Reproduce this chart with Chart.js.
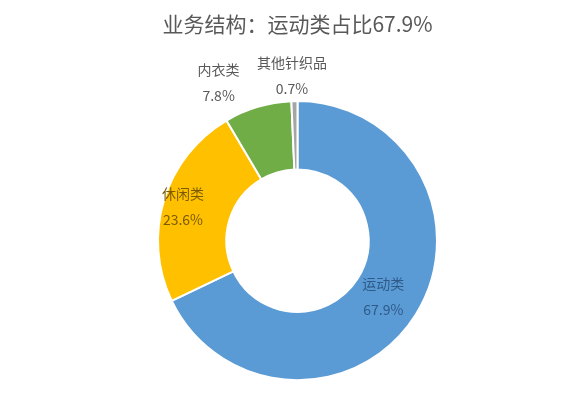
<!DOCTYPE html>
<html>
<head>
<meta charset="utf-8">
<title>业务结构</title>
<script src="https://cdn.jsdelivr.net/npm/chart.js"></script>
<style>
  html, body { margin: 0; padding: 0; background: #fff; }
  .box { width: 583px; height: 413px; }
</style>
</head>
<body>
<div class="box"><canvas id="pie"></canvas></div>
<script>
// 数据
const categories = ['运动类', '休闲类', '内衣类', '其他针织品'];
const shares = [67.9, 23.6, 7.8, 0.7];
const colors = ['#5B9BD5', '#FFC000', '#70AD47', '#A5A5A5'];
const labelColors = ['#2F5A88', '#7A5B00', '#595959', '#595959'];
// 标签微调 (dx, dy)
const nudges = [[-12, -6], [-4, 0], [-32, 0], [-2, 0]];

// 画数据标签：大的放在环内，小的放在环外
const labelPlugin = {
  id: 'sliceLabels',
  afterDatasetsDraw(chart) {
    const ctx = chart.ctx;
    const meta = chart.getDatasetMeta(0);
    ctx.save();
    ctx.font = '14px "Noto Sans CJK SC", sans-serif';
    ctx.textAlign = 'center';
    ctx.textBaseline = 'middle';
    meta.data.forEach(function (arc, i) {
      const p = arc.getProps(['x', 'y', 'startAngle', 'endAngle', 'innerRadius', 'outerRadius'], true);
      const mid = (p.startAngle + p.endAngle) / 2;
      const inside = shares[i] > 15;
      const r = inside ? p.innerRadius + 0.65 * (p.outerRadius - p.innerRadius) : p.outerRadius + 25;
      const cx = p.x + r * Math.cos(mid) + nudges[i][0];
      const cy = p.y + r * Math.sin(mid) + nudges[i][1];
      ctx.fillStyle = labelColors[i];
      ctx.fillText(categories[i], cx, cy - 13);
      ctx.fillText(shares[i].toFixed(1) + '%', cx, cy + 13);
    });
    ctx.restore();
  }
};

const ctx = document.getElementById('pie').getContext('2d');
new Chart(ctx, {
  type: 'doughnut',
  data: {
    labels: categories,
    datasets: [{
      data: shares,
      backgroundColor: colors,
      borderColor: '#ffffff',
      borderWidth: 2
    }]
  },
  options: {
    responsive: true,
    maintainAspectRatio: false,
    animation: false,
    cutout: '51%',
    layout: { padding: { left: 157, right: 145, top: 0, bottom: 31 } },
    plugins: {
      legend: { display: false },
      tooltip: { enabled: false },
      title: {
        display: true,
        text: '业务结构：运动类占比67.9%',
        color: '#595959',
        font: { family: '"Noto Sans CJK SC", sans-serif', size: 21, weight: 'normal' },
        padding: { top: 11, bottom: 63 }
      }
    }
  },
  plugins: [labelPlugin]
});
</script>
</body>
</html>
